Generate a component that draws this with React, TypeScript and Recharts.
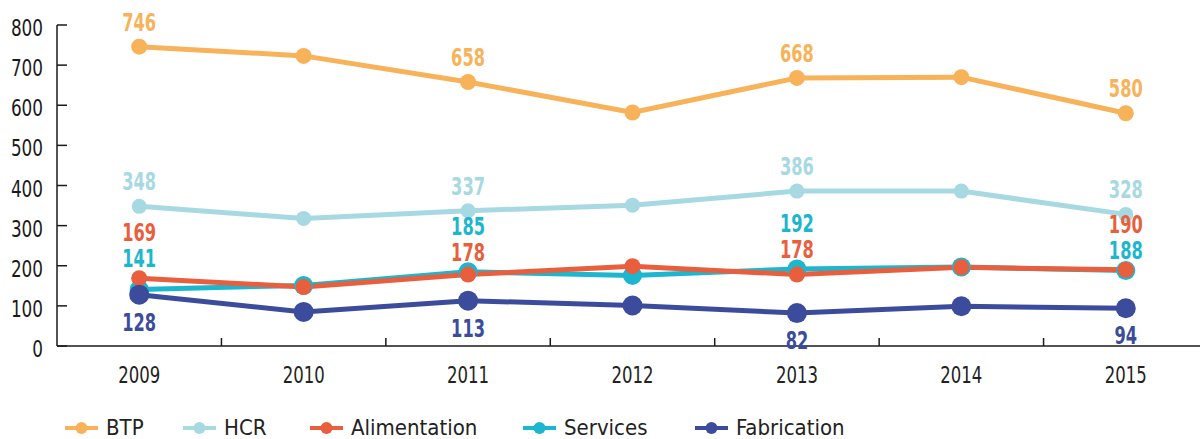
import { LineChart, Line, XAxis, YAxis } from 'recharts';

const years = ['2009', '2010', '2011', '2012', '2013', '2014', '2015'];
const btp = [746, 723, 658, 582, 668, 670, 580];
const hcr = [348, 318, 337, 351, 386, 386, 328];
const alimentation = [169, 147, 178, 199, 178, 196, 190];
const services = [141, 151, 185, 176, 192, 197, 188];
const fabrication = [128, 85, 113, 101, 82, 99, 94];
const yTicks = [0, 100, 200, 300, 400, 500, 600, 700, 800];
const labelledYears = [0, 2, 4, 6];

const FONT = "'DejaVu Sans Condensed', 'DejaVu Sans', sans-serif";
const CHART_W = 1210;
const CHART_H = 400;
const TOP = 25;
const X_AXIS_H = 54;
const PX_PER_UNIT = (CHART_H - TOP - X_AXIS_H) / 800;

// drawing order (services under alimentation)
const series = [
  { key: 'BTP', color: '#F8B35A', r: 8, values: btp },
  { key: 'HCR', color: '#A7D9E2', r: 7.5, values: hcr },
  { key: 'Services', color: '#1CB6CE', r: 9.5, values: services },
  { key: 'Alimentation', color: '#E95F3E', r: 8, values: alimentation },
  { key: 'Fabrication', color: '#3C4C9C', r: 10, values: fabrication },
];
const legendOrder = ['BTP', 'HCR', 'Alimentation', 'Services', 'Fabrication'];
// left edge of each legend item, in px
const legendLeft = [65, 183, 310, 523, 695];

const data = years.map((year, i) => ({
  x: i,
  year,
  BTP: btp[i],
  HCR: hcr[i],
  Alimentation: alimentation[i],
  Services: services[i],
  Fabrication: fabrication[i],
}));

const xTicks = years.flatMap((_, i) => (i === 0 ? [0] : [i - 0.5, i]));

function XTick({ x, y, payload }: any) {
  const v = payload.value;
  if (Number.isInteger(v)) {
    const label = years[v];
    return (
      <text
        x={x}
        y={y + 37}
        textAnchor="middle"
        fontFamily={FONT}
        fontSize={23}
        fill="#222"
        textLength={label.length * 10.5}
        lengthAdjust="spacingAndGlyphs"
      >
        {label}
      </text>
    );
  }
  return <line x1={x} x2={x} y1={y} y2={y - 8} stroke="#1a1a1a" strokeWidth={1.5} />;
}

function YTick({ x, y, payload }: any) {
  const label = String(payload.value);
  return (
    <g>
      <line x1={x} x2={x + 10} y1={y} y2={y} stroke="#1a1a1a" strokeWidth={1.5} />
      <text
        x={x - 14}
        y={y + 11}
        textAnchor="end"
        fontFamily={FONT}
        fontSize={23}
        fill="#1a1a1a"
        textLength={label.length * 10.7}
        lengthAdjust="spacingAndGlyphs"
      >
        {label}
      </text>
    </g>
  );
}

function makeLabel(key: string, color: string) {
  return (props: any) => {
    const { x, y, value, index } = props;
    if (!labelledYears.includes(index)) return null;
    let cy = y - 25;
    if (key === 'Fabrication') {
      cy = y + 27;
    } else if (key === 'Alimentation' || key === 'Services') {
      const other = key === 'Alimentation' ? services[index] : alimentation[index];
      const topY = y - Math.max(0, other - value) * PX_PER_UNIT;
      cy = value >= other ? topY - 46 : topY - 20;
    }
    const label = String(value);
    return (
      <text
        key={`${key}-${index}`}
        x={x}
        y={cy + 9}
        textAnchor="middle"
        fontFamily={FONT}
        fontSize={24}
        fontWeight="bold"
        fill={color}
        textLength={label.length * 11.3}
        lengthAdjust="spacingAndGlyphs"
      >
        {label}
      </text>
    );
  };
}

function LegendRow() {
  return (
    <>
      {legendOrder.map((name, i) => {
        const s = series.find((d) => d.key === name)!;
        return (
          <div
            key={name}
            style={{
              position: 'absolute',
              top: 417,
              left: legendLeft[i],
              height: 22,
              lineHeight: '22px',
              display: 'flex',
              alignItems: 'center',
              gap: 8,
              fontFamily: FONT,
              fontSize: 22,
              color: '#222',
              whiteSpace: 'nowrap',
            }}
          >
            <svg width={33} height={14}>
              <line x1={0} x2={33} y1={7} y2={7} stroke={s.color} strokeWidth={4} />
              <circle cx={16.5} cy={7} r={6} fill={s.color} />
            </svg>
            <span>{name}</span>
          </div>
        );
      })}
    </>
  );
}

export default function App() {
  return (
    <div
      style={{
        position: 'absolute',
        top: 0,
        left: 0,
        width: 1200,
        height: 439,
        overflow: 'hidden',
        background: '#fff',
      }}
    >
      <LineChart
        width={CHART_W}
        height={CHART_H}
        data={data}
        margin={{ top: TOP, right: 2, bottom: 0, left: 0 }}
      >
        <XAxis
          dataKey="x"
          type="number"
          domain={[-0.5, 6.5]}
          ticks={xTicks}
          interval={0}
          tickLine={false}
          tickSize={0}
          tickMargin={0}
          height={X_AXIS_H}
          axisLine={{ stroke: '#1a1a1a', strokeWidth: 1.5 }}
          tick={<XTick />}
        />
        <YAxis
          domain={[0, 800]}
          ticks={yTicks}
          interval={0}
          width={57}
          tickLine={false}
          tickSize={0}
          tickMargin={0}
          axisLine={{ stroke: '#1a1a1a', strokeWidth: 1.5 }}
          tick={<YTick />}
        />
        {series.map((s) => (
          <Line
            key={s.key}
            dataKey={s.key}
            stroke={s.color}
            strokeWidth={5}
            dot={{ r: s.r, fill: s.color, stroke: 'none' }}
            activeDot={false}
            label={makeLabel(s.key, s.color)}
            isAnimationActive={false}
          />
        ))}
      </LineChart>
      <LegendRow />
    </div>
  );
}
